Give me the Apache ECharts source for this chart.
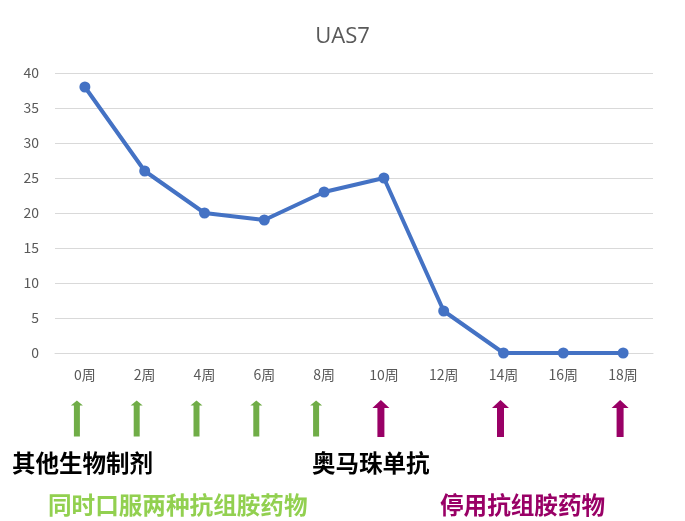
<!DOCTYPE html>
<html><head><meta charset="utf-8">
<script src="https://cdn.jsdelivr.net/npm/echarts@6/dist/echarts.min.js"></script>
<style>html,body{margin:0;padding:0;background:#fff}#c{width:685px;height:521px}</style>
</head><body><div id="c"></div>
<script>
var weeks = ['0周','2周','4周','6周','8周','10周','12周','14周','16周','18周'];
var uas7 = [38, 26, 20, 19, 23, 25, 6, 0, 0, 0];
var yTicks = {min: 0, max: 40, interval: 5};
var greenArrowWeeks = ['0周','2周','4周','6周','8周'];
var purpleArrowWeeks = ['10周','14周','18周'];
var labelOther = '其他生物制剂';
var labelOmal = '奥马珠单抗';
var labelTwoAH = '同时口服两种抗组胺药物';
var labelStopAH = '停用抗组胺药物';

var cjk = '"Noto Sans CJK SC", sans-serif';
var chart = echarts.init(document.getElementById('c'));
var greenPath = 'path://M6,0 L12,5 L9,5 L9,36 L3,36 L3,5 L0,5 Z';
var purplePath = 'path://M8.5,0 L17,8 L12,8 L12,37 L5,37 L5,8 L0,8 Z';
chart.setOption({
  animation: false,
  title: {text: 'UAS7', left: 'center', top: 21,
    textStyle: {fontFamily: '"Open Sans", sans-serif', fontSize: 22, fontWeight: 'normal', color: '#595959'}},
  grid: [
    {left: 55, right: 32, top: 73, bottom: 168},
    {left: 55, right: 32, top: 400, height: 37}
  ],
  xAxis: [
    {type: 'category', data: weeks, gridIndex: 0, boundaryGap: true,
      axisLine: {show: true, lineStyle: {color: '#d9d9d9'}}, axisTick: {show: false},
      axisLabel: {color: '#595959', fontSize: 14, fontFamily: cjk, margin: 15}},
    {type: 'category', data: weeks, gridIndex: 1, boundaryGap: true, show: false}
  ],
  yAxis: [
    {type: 'value', gridIndex: 0, min: yTicks.min, max: yTicks.max, interval: yTicks.interval,
      axisLine: {show: false}, axisTick: {show: false},
      splitLine: {lineStyle: {color: '#d9d9d9', width: 1}},
      axisLabel: {color: '#595959', fontSize: 14, fontFamily: cjk, margin: 16}},
    {type: 'value', gridIndex: 1, min: 0, max: 1, show: false}
  ],
  series: [
    {type: 'line', data: uas7, xAxisIndex: 0, yAxisIndex: 0,
      symbol: 'circle', symbolSize: 11,
      lineStyle: {color: '#4472C4', width: 4},
      itemStyle: {color: '#4472C4'}},
    {type: 'scatter', xAxisIndex: 1, yAxisIndex: 1,
      data: greenArrowWeeks.map(function(w){return [w, 0.5];}),
      symbol: greenPath, symbolSize: [12, 36], symbolOffset: [-8, 0],
      itemStyle: {color: '#70AD47', opacity: 1}},
    {type: 'scatter', xAxisIndex: 1, yAxisIndex: 1,
      data: purpleArrowWeeks.map(function(w){return [w, 0.5];}),
      symbol: purplePath, symbolSize: [17, 37], symbolOffset: [-3, 0],
      itemStyle: {color: '#990066', opacity: 1}}
  ],
  graphic: [
    {type: 'text', left: 12, top: 451, style: {text: labelOther, fill: '#000', font: 'bold 23.5px ' + cjk}},
    {type: 'text', left: 312, top: 451, style: {text: labelOmal, fill: '#000', font: 'bold 23.5px ' + cjk}},
    {type: 'text', left: 48, top: 493, style: {text: labelTwoAH, fill: '#92D050', font: 'bold 23.6px ' + cjk}},
    {type: 'text', left: 440, top: 493, style: {text: labelStopAH, fill: '#990066', font: 'bold 23.6px ' + cjk}}
  ]
});
</script></body></html>
